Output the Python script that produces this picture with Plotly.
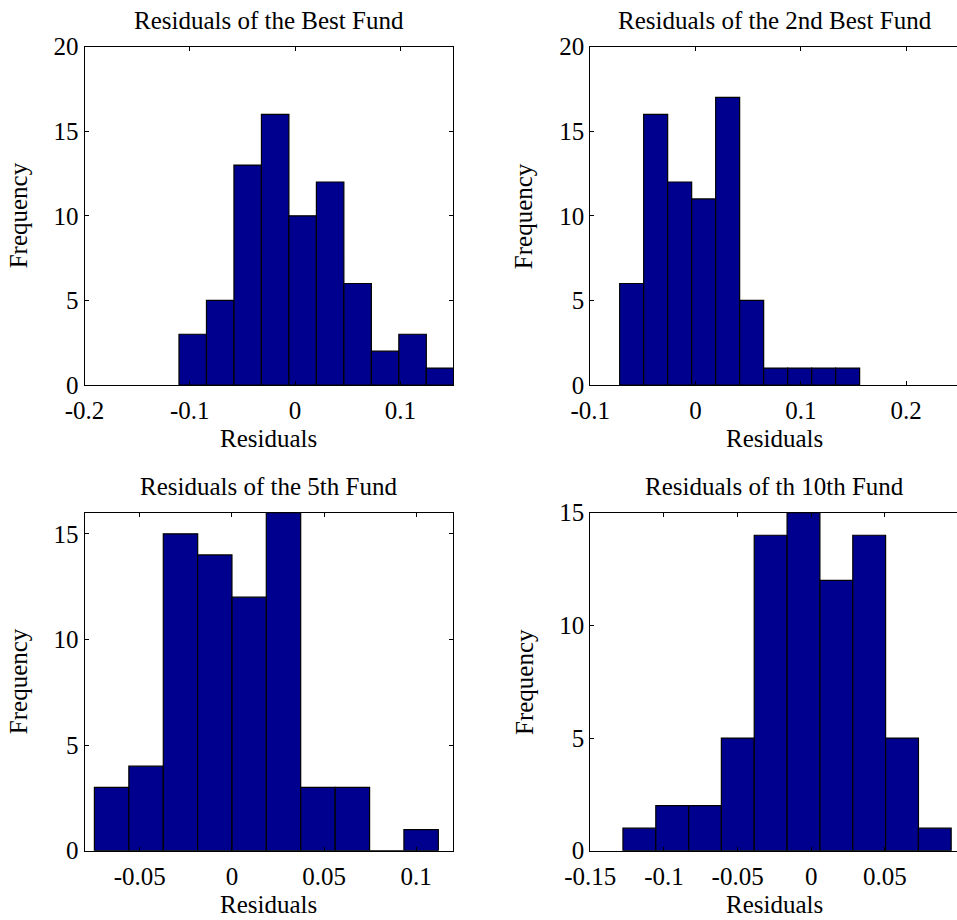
import plotly.graph_objects as go

# ---- data ----
titles = ["Residuals of the Best Fund", "Residuals of the 2nd Best Fund",
          "Residuals of the 5th Fund", "Residuals of th 10th Fund"]

best_centers = [-0.0972, -0.0711, -0.0450, -0.0189, 0.0072, 0.0333, 0.0594, 0.0855, 0.1116, 0.1377]
best_counts = [3, 5, 13, 16, 10, 12, 6, 2, 3, 1]
best_width = 0.0261

second_centers = [-0.0607, -0.0379, -0.0151, 0.0077, 0.0305, 0.0533, 0.0761, 0.0989, 0.1217, 0.1445]
second_counts = [6, 16, 12, 11, 17, 5, 1, 1, 1, 1]
second_width = 0.0228

fifth_centers = [-0.0653, -0.0466, -0.0279, -0.0093, 0.0094, 0.0280, 0.0467, 0.0654, 0.0840, 0.1027]
fifth_counts = [3, 4, 15, 14, 12, 16, 3, 3, 0, 1]
fifth_width = 0.01867

tenth_centers = [-0.1167, -0.0944, -0.0721, -0.0499, -0.0276, -0.0053, 0.0170, 0.0393, 0.0616, 0.0838]
tenth_counts = [1, 2, 2, 5, 14, 15, 12, 14, 5, 1]
tenth_width = 0.02228

x_ticks = [[-0.2, -0.1, 0, 0.1], [-0.1, 0, 0.1, 0.2],
           [-0.05, 0, 0.05, 0.1], [-0.15, -0.1, -0.05, 0, 0.05]]
x_ticktext = [["-0.2", "-0.1", "0", "0.1"], ["-0.1", "0", "0.1", "0.2"],
              ["-0.05", "0", "0.05", "0.1"], ["-0.15", "-0.1", "-0.05", "0", "0.05"]]
y_ticks = [[0, 5, 10, 15, 20], [0, 5, 10, 15, 20], [0, 5, 10, 15], [0, 5, 10, 15]]
x_ranges = [[-0.2, 0.15], [-0.1, 0.2484], [-0.08, 0.12], [-0.15, 0.0989]]
y_ranges = [[0, 20], [0, 20], [0, 16], [0, 15]]

# ---- layout geometry (pixels) ----
W, H = 957, 920
FONT = "Liberation Serif, Times New Roman, serif"
FS = 25
BAR = "#00008F"

cols_px = [(84.5, 453.0), (590.3, 957.0)]
rows_px = [(46.7, 385.0), (512.7, 850.7)]

def px_x(p):
    return p / W

def px_y(p):
    return 1 - p / H

series = [(best_centers, best_counts, best_width),
          (second_centers, second_counts, second_width),
          (fifth_centers, fifth_counts, fifth_width),
          (tenth_centers, tenth_counts, tenth_width)]

fig = go.Figure()
layout = dict(template="none", width=W, height=H, margin=dict(l=0, r=0, t=0, b=0),
              paper_bgcolor="white", plot_bgcolor="white", showlegend=False,
              font=dict(family=FONT, size=FS, color="black"), annotations=[])

for i, (cx, cnt, w) in enumerate(series):
    r, c = divmod(i, 2)
    xa = "x" if i == 0 else f"x{i+1}"
    ya = "y" if i == 0 else f"y{i+1}"
    fig.add_trace(go.Bar(x=cx, y=cnt, width=w, xaxis=xa, yaxis=ya,
                         marker=dict(color=BAR, line=dict(color="black", width=1.2)),
                         hoverinfo="x+y"))
    x0, x1 = cols_px[c]
    y0, y1 = rows_px[r]
    right_col = (c == 1)
    layout["xaxis" if i == 0 else f"xaxis{i+1}"] = dict(
        domain=[px_x(x0), px_x(x1)], anchor=ya, range=x_ranges[i], automargin=False,
        tickvals=x_ticks[i], ticktext=x_ticktext[i], ticks="inside", ticklen=4,
        tickcolor="black", showline=True, linecolor="black", linewidth=1.2,
        mirror="ticks", showgrid=False, zeroline=False, ticklabelstandoff=3,
        tickfont=dict(family=FONT, size=FS, color="black"))
    layout["yaxis" if i == 0 else f"yaxis{i+1}"] = dict(
        domain=[px_y(y1), px_y(y0)], anchor=xa, range=y_ranges[i], automargin=False,
        tickvals=y_ticks[i], ticks="inside", ticklen=4, tickcolor="black",
        showline=True, linecolor="black", linewidth=1.2,
        mirror=(False if right_col else "ticks"), showgrid=False, zeroline=False,
        ticklabelstandoff=0, tickfont=dict(family=FONT, size=FS, color="black"))
    cx_px = (x0 + (x0 + 368.5)) / 2
    layout["annotations"].append(dict(
        text=titles[i], xref="paper", yref="paper", x=px_x(cx_px),
        y=px_y(y0 - 26), xanchor="center", yanchor="middle", showarrow=False,
        font=dict(family=FONT, size=FS, color="black")))
    layout["annotations"].append(dict(
        text="Residuals", xref="paper", yref="paper", x=px_x(cx_px),
        y=px_y(y1 + 54), xanchor="center", yanchor="middle", showarrow=False,
        font=dict(family=FONT, size=FS, color="black")))
    layout["annotations"].append(dict(
        text="Frequency", xref="paper", yref="paper", x=px_x(x0 - 66),
        y=px_y((y0 + y1) / 2), xanchor="center", yanchor="middle", textangle=-90,
        showarrow=False, font=dict(family=FONT, size=FS, color="black")))

fig.update_layout(**layout)
fig.write_html("out.html", config={"displayModeBar": False},
               post_script="document.body.style.margin='0';document.body.style.overflow='hidden';")
